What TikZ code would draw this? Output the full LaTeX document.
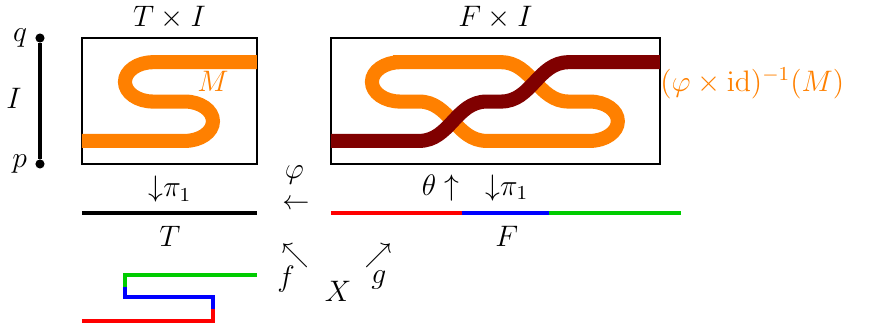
\documentclass[12pt,tikz,border=0pt]{standalone}
\usetikzlibrary{positioning}

\definecolor{strandorange}{RGB}{255,128,0}
\definecolor{strandred}{RGB}{128,0,0}
\definecolor{segred}{RGB}{255,0,0}
\definecolor{segblue}{RGB}{0,0,255}
\definecolor{seggreen}{RGB}{0,204,0}

\begin{document}
\begin{tikzpicture}[
    box/.style={rectangle, draw, thick, inner sep=0pt},
    dot/.style={circle, fill, inner sep=0pt, minimum size=0.13cm},
    strand/.style={line width=0.2cm},
    seg/.style={line width=1.7pt},
    maparrow/.style={inner sep=0pt, font=\small}
]
    \useasboundingbox (0,0) rectangle (12.45,4.595);

    % the interval I
    \node[dot, label={[label distance=-1pt]left:{$q$}}] (qpt) at (0.569,4.054) {};
    \node[dot, label={[label distance=-1pt]left:{$p$}}] (ppt) at (0.569,2.262) {};
    \draw[line width=1.6pt] (qpt) -- (ppt);
    \node (Ilabel) at (0.2,3.2) {$I$};

    % the two boxes
    \node[box, minimum width=2.49cm, minimum height=1.792cm, label={[label distance=-1pt]above:{$T\times I$}}] (TI) at (2.411,3.158) {};
    \node[box, minimum width=4.68cm, minimum height=1.792cm, label={[label distance=-1pt]above:{$F\times I$}}] (FI) at (7.048,3.158) {};

    % M inside T x I
    \draw[strand, strandorange] (1.166,2.59) -- (2.63,2.59)
        arc[start angle=-90, end angle=90, x radius=0.4, y radius=0.28]
        -- (2.178,3.15)
        arc[start angle=270, end angle=90, x radius=0.4, y radius=0.28]
        -- (3.656,3.71);
    \node[text=strandorange] (Mlabel) at (3.03,3.43) {$M$};

    % preimage inside F x I
    \draw[strand, strandorange] (5.692,3.71) -- (7.13,3.71)
        to[out=0, in=180] (8.09,3.15) -- (8.391,3.15)
        arc[start angle=90, end angle=-90, x radius=0.4, y radius=0.28]
        -- (6.924,2.59) to[out=180, in=0] (5.964,3.15) -- (5.692,3.15)
        arc[start angle=270, end angle=90, x radius=0.4, y radius=0.28]
        -- cycle;
    \draw[strand, strandred] (4.708,2.59) -- (5.964,2.59)
        to[out=0, in=180] (6.924,3.15) -- (7.13,3.15)
        to[out=0, in=180] (8.09,3.71) -- (9.388,3.71);
    \node[text=strandorange, anchor=west, inner sep=0pt] (preimage) at (9.388,3.41) {$(\varphi\times\mathrm{id})^{-1}(M)$};

    % T and F
    \coordinate (T0) at (1.166,1.565);
    \coordinate (T1) at (3.656,1.565);
    \coordinate (F0) at (4.708,1.565);
    \coordinate (F1) at (6.572,1.565);
    \coordinate (F2) at (7.809,1.565);
    \coordinate (F3) at (9.687,1.565);
    \draw[seg] (T0) -- (T1);
    \draw[seg, segred] (F0) -- (F1);
    \draw[seg, segblue] (F1) -- (F2);
    \draw[seg, seggreen] (F2) -- (F3);

    \node (Tproj) at (2.418,1.9) {${\downarrow}\pi_1$};
    \node (Tlabel) at (2.418,1.23) {$T$};
    \node (theta) at (6.27,1.92) {$\theta\uparrow$};
    \node (Fproj) at (7.21,1.92) {${\downarrow}\pi_1$};
    \node (Flabel) at (7.21,1.23) {$F$};
    \node[inner sep=0pt] (phi) at (4.19,2.1) {$\varphi$};
    \node[maparrow] (phimap) at (4.21,1.69) {$\leftarrow$};

    % the map f from X
    \draw[seg, segred] (1.166,0.03) -- (3.03,0.03) -- (3.03,0.2);
    \draw[seg, segblue] (3.03,0.2) -- (3.03,0.37) -- (1.778,0.37) -- (1.778,0.51);
    \draw[seg, seggreen] (1.778,0.51) -- (1.778,0.683) -- (3.656,0.683);

    \node[maparrow] (fmap) at (4.2,0.96) {$\nwarrow$};
    \node[inner sep=0pt] (flabel) at (4.07,0.63) {$f$};
    \node[maparrow] (gmap) at (5.38,0.96) {$\nearrow$};
    \node[inner sep=0pt] (glabel) at (5.39,0.61) {$g$};
    \node (Xlabel) at (4.81,0.45) {$X$};
\end{tikzpicture}
\end{document}
